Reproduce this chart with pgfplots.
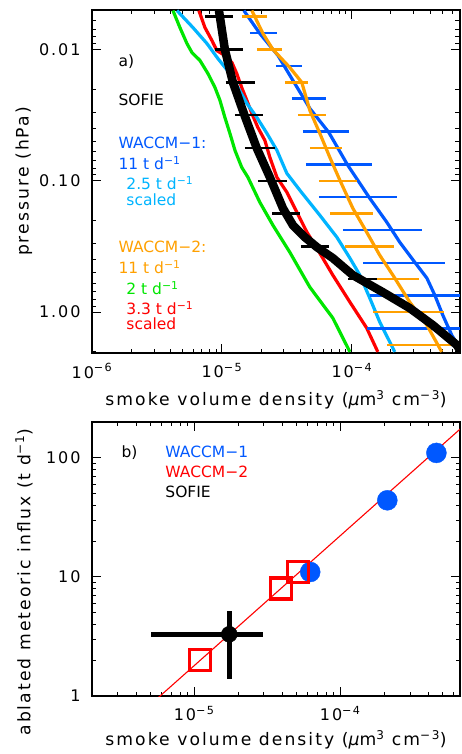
\documentclass[border=0pt]{standalone}
\usepackage{fontspec}
\setmainfont{DejaVu Sans}
\newfontfamily\lsfont{DejaVu Sans}[LetterSpace=12]
\usepackage{pgfplots}
\pgfplotsset{compat=1.18}
\definecolor{wblue}{RGB}{0,88,255}
\definecolor{wcyan}{RGB}{0,180,255}
\definecolor{worange}{RGB}{255,160,0}
\definecolor{wgreen}{RGB}{0,230,0}
\definecolor{wred}{RGB}{255,0,0}
\newcommand{\sfs}{\fontsize{15.5}{18}\selectfont}
\newcommand{\tfs}{\fontsize{16}{19}\selectfont}
\newcommand{\lfs}{\fontsize{17.2}{20}\selectfont}
\begin{document}
\begin{tikzpicture}
\path[use as bounding box] (-92pt,10pt) rectangle (369pt,-744pt);
% ---------------- panel a
\begin{axis}[scale only axis, xmode=log, ymode=log,
  axis line style={line width=1.2pt}, tick style={line width=0.9pt, black},
  major tick length=9pt, minor tick length=4.5pt, tick align=inside,
  tick pos=both, font=\sfs, ticklabel style={font=\lsfont\tfs},
  label style={font=\lsfont\lfs}, unbounded coords=jump,
  every node/.append style={inner sep=0pt},
  at={(0pt,0pt)}, anchor=north west, width=368pt, height=343pt,
  xmin=1e-6, xmax=6.8e-4, ymin=0.005, ymax=2.05, y dir=reverse,
  xtick={1e-6,1e-5,1e-4}, xticklabels={10\textsuperscript{−6},10\textsuperscript{−5},10\textsuperscript{−4}},
  minor xtick={2e-6,3e-6,4e-6,5e-6,6e-6,7e-6,8e-6,9e-6,2e-5,3e-5,4e-5,5e-5,6e-5,7e-5,8e-5,9e-5,2e-4,3e-4,4e-4,5e-4,6e-4},
  ytick={0.01,0.1,1}, yticklabels={0.01,0.10,1.00},
  minor ytick={0.005,0.006,0.007,0.008,0.009,0.02,0.03,0.04,0.05,0.06,0.07,0.08,0.09,0.2,0.3,0.4,0.5,0.6,0.7,0.8,0.9,2},
  xticklabel style={yshift=-7pt}, yticklabel style={xshift=-8pt},
  xlabel={smoke volume density ({\itshape μ}m\textsuperscript{3} cm\textsuperscript{−3})},
  ylabel={pressure (hPa)},
  xlabel style={at={(axis description cs:0.5,-0.137)}, anchor=center},
  ylabel style={at={(axis description cs:-0.185,0.5)}, anchor=center},
]
% green: WACCM-2 2 t/d
\addplot[wgreen, line width=3.2pt] coordinates {(4.20e-6,0.00505) (4.75e-6,0.0068) (5.38e-6,0.0090) (5.88e-6,0.01054) (6.77e-6,0.0121) (7.80e-6,0.01522) (8.84e-6,0.01945) (9.66e-6,0.0244) (1.054e-5,0.0329) (1.152e-5,0.0435) (1.26e-5,0.0586) (1.42e-5,0.0789) (1.585e-5,0.094) (1.96e-5,0.146) (2.47e-5,0.218) (3.33e-5,0.350) (4.75e-5,0.646) (7.14e-5,1.11) (9.66e-5,2.01)};
% red: WACCM-2 3.3 t/d scaled
\addplot[wred, line width=3.2pt] coordinates {(6.65e-6,0.00505) (7.40e-6,0.0068) (8.38e-6,0.00854) (9.15e-6,0.0102) (1.054e-5,0.0111) (1.194e-5,0.01256) (1.30e-5,0.01522) (1.42e-5,0.01945) (1.556e-5,0.0244) (1.70e-5,0.0307) (1.89e-5,0.0392) (2.14e-5,0.0492) (2.34e-5,0.0663) (2.65e-5,0.094) (3.16e-5,0.122) (3.78e-5,0.174) (4.51e-5,0.246) (5.38e-5,0.326) (7.14e-5,0.523) (9.66e-5,0.839) (1.30e-4,1.32) (1.585e-4,2.01)};
% cyan: WACCM-1 2.5 t/d scaled
\addplot[wcyan, line width=3.2pt] coordinates {(4.51e-6,0.00505) (5.98e-6,0.0068) (7.67e-6,0.0090) (9.31e-6,0.01171) (1.152e-5,0.01522) (1.327e-5,0.01945) (1.556e-5,0.02574) (1.858e-5,0.0329) (2.22e-5,0.0435) (2.65e-5,0.0586) (3.16e-5,0.0877) (3.98e-5,0.118) (5.67e-5,0.183) (7.67e-5,0.269) (9.66e-5,0.388) (1.153e-4,0.523) (1.375e-4,0.783) (1.64e-4,1.19) (2.14e-4,2.01)};
% blue: WACCM-1 11 t/d
\addplot[wblue, line width=3.2pt] coordinates {(1.476e-5,0.00505) (1.96e-5,0.00756) (2.70e-5,0.0111) (3.52e-5,0.0172) (4.75e-5,0.0281) (6.65e-5,0.0428) (9.31e-5,0.0762) (1.375e-4,0.136) (1.86e-4,0.207) (2.34e-4,0.294) (3.05e-4,0.417) (3.78e-4,0.551) (4.35e-4,0.743) (5.01e-4,1.054) (5.88e-4,1.50) (6.77e-4,1.88)};
\addplot[wblue, line width=2.5pt] coordinates {(1.64e-5,0.0075) (2.65e-5,0.0075) (1e-5,nan) (2.60e-5,0.0133) (4.12e-5,0.0133) (1e-5,nan) (3.45e-5,0.0237) (6.31e-5,0.0237) (1e-5,nan) (4.20e-5,0.0422) (9.48e-5,0.0422) (1e-5,nan) (4.43e-5,0.075) (1.425e-4,0.075) (1e-5,nan) (5.57e-5,0.133) (2.22e-4,0.133) (1e-5,nan) (8.53e-5,0.237) (3.45e-4,0.237) (1e-5,nan) (1.216e-4,0.422) (5.19e-4,0.422) (1e-5,nan) (1.375e-4,0.75) (7.48e-4,0.75) (1e-5,nan) (1.30e-4,1.33) (9.66e-4,1.33)};
% orange: WACCM-2 11 t/d
\addplot[worange, line width=3.2pt] coordinates {(1.70e-5,0.00505) (2.07e-5,0.00756) (2.47e-5,0.01) (3.33e-5,0.0137) (4.12e-5,0.0178) (4.75e-5,0.0291) (5.67e-5,0.0435) (6.77e-5,0.0663) (8.09e-5,0.099) (1.018e-4,0.162) (1.30e-4,0.246) (1.64e-4,0.369) (2.07e-4,0.523) (2.79e-4,0.839) (3.78e-4,1.256) (4.92e-4,2.01)};
\addplot[worange, line width=2.5pt] coordinates {(1.42e-5,0.00562) (2.22e-5,0.00562) (1e-5,nan) (1.858e-5,0.01) (2.89e-5,0.01) (1e-5,nan) (3.05e-5,0.0178) (4.59e-5,0.0178) (1e-5,nan) (3.84e-5,0.0316) (6.31e-5,0.0316) (1e-5,nan) (4.75e-5,0.0562) (8.38e-5,0.0562) (1e-5,nan) (5.57e-5,0.1) (1.092e-4,0.1) (1e-5,nan) (6.77e-5,0.178) (1.45e-4,0.178) (1e-5,nan) (8.83e-5,0.316) (2.10e-4,0.316) (1e-5,nan) (1.153e-4,0.562) (3.28e-4,0.562) (1e-5,nan) (1.45e-4,1.0) (5.10e-4,1.0) (1e-5,nan) (1.86e-4,1.78) (8.8e-4,1.78)};
% black: SOFIE
\addplot[black, line width=8.5pt] coordinates {(9.49e-6,0.00505) (1.054e-5,0.01) (1.215e-5,0.0178) (1.503e-5,0.0323) (1.858e-5,0.0566) (2.34e-5,0.094) (2.95e-5,0.162) (3.52e-5,0.218) (4.35e-5,0.269) (5.38e-5,0.320) (7.14e-5,0.388) (1.018e-4,0.523) (1.73e-4,0.705) (2.79e-4,0.933) (4.20e-4,1.256) (6.42e-4,1.78) (7.02e-4,2.05)};
\addplot[black, line width=2.5pt] coordinates {(7.40e-6,0.00562) (1.215e-5,0.00562) (1e-5,nan) (8.84e-6,0.01) (1.45e-5,0.01) (1e-5,nan) (1.07e-5,0.0178) (1.79e-5,0.0178) (1e-5,nan) (1.26e-5,0.0316) (2.07e-5,0.0316) (1e-5,nan) (1.503e-5,0.0562) (2.56e-5,0.0562) (1e-5,nan) (1.89e-5,0.1) (3.16e-5,0.1) (1e-5,nan) (2.43e-5,0.178) (3.98e-5,0.178) (1e-5,nan) (4.05e-5,0.316) (6.65e-5,0.316) (1e-5,nan) (9.31e-5,0.562) (1.556e-4,0.562)};
\node[anchor=west] at (axis description cs:0.0625,0.848) {a)};
\node[anchor=west] at (axis description cs:0.0625,0.738) {SOFIE};
\node[anchor=west, text=wblue] at (axis description cs:0.0625,0.612) {WACCM−1:};
\node[anchor=west, text=wblue] at (axis description cs:0.0625,0.554) {11 t d\textsuperscript{−1}};
\node[anchor=west, text=wcyan] at (axis description cs:0.084,0.496) {2.5 t d\textsuperscript{−1}};
\node[anchor=west, text=wcyan] at (axis description cs:0.084,0.446) {scaled};
\node[anchor=west, text=worange] at (axis description cs:0.0625,0.309) {WACCM−2:};
\node[anchor=west, text=worange] at (axis description cs:0.0625,0.251) {11 t d\textsuperscript{−1}};
\node[anchor=west, text=wgreen] at (axis description cs:0.084,0.190) {2 t d\textsuperscript{−1}};
\node[anchor=west, text=wred] at (axis description cs:0.084,0.131) {3.3 t d\textsuperscript{−1}};
\node[anchor=west, text=wred] at (axis description cs:0.084,0.085) {scaled};
\end{axis}
% ---------------- panel b
\begin{axis}[scale only axis, xmode=log, ymode=log,
  axis line style={line width=1.2pt}, tick style={line width=0.9pt, black},
  major tick length=9pt, minor tick length=4.5pt, tick align=inside,
  tick pos=both, font=\sfs, ticklabel style={font=\lsfont\tfs},
  label style={font=\lsfont\lfs}, unbounded coords=jump,
  every node/.append style={inner sep=0pt},
  at={(0pt,-412pt)}, anchor=north west, width=368pt, height=274pt,
  xmin=2e-6, xmax=6.6e-4, ymin=1, ymax=200,
  xtick={1e-5,1e-4}, xticklabels={10\textsuperscript{−5},10\textsuperscript{−4}},
  minor xtick={2e-6,3e-6,4e-6,5e-6,6e-6,7e-6,8e-6,9e-6,2e-5,3e-5,4e-5,5e-5,6e-5,7e-5,8e-5,9e-5,2e-4,3e-4,4e-4,5e-4,6e-4},
  ytick={1,10,100}, yticklabels={1,10,100},
  minor ytick={2,3,4,5,6,7,8,9,20,30,40,50,60,70,80,90,200},
  xticklabel style={yshift=-7pt}, yticklabel style={xshift=-8pt},
  xlabel={smoke volume density ({\itshape μ}m\textsuperscript{3} cm\textsuperscript{−3})},
  ylabel={ablated meteoric influx (t d\textsuperscript{−1})},
  xlabel style={at={(axis description cs:0.5,-0.161)}, anchor=center},
  ylabel style={at={(axis description cs:-0.185,0.416)}, anchor=center},
]
\addplot[wred, line width=1.1pt] coordinates {(5e-6,0.843) (1e-3,274)};
\addplot[only marks, mark=*, mark size=10pt, color=wblue, mark options={draw=none, fill=wblue}] coordinates {(6.23e-5,11) (2.10e-4,44) (4.55e-4,110)};
\addplot[only marks, mark=square, mark size=10.5pt, color=wred, mark options={line width=3.3pt, draw=wred}] coordinates {(1.10e-5,2.0) (3.94e-5,8.0) (5.15e-5,11)};
\addplot[black, line width=4.5pt] coordinates {(5.07e-6,3.3) (2.97e-5,3.3) (1e-5,nan) (1.74e-5,1.4) (1.74e-5,5.2)};
\addplot[only marks, mark=*, mark size=8pt, color=black] coordinates {(1.74e-5,3.3)};
\node[anchor=west] at (axis description cs:0.0707,0.887) {b)};
\node[anchor=west, text=wblue] at (axis description cs:0.190,0.891) {WACCM−1};
\node[anchor=west, text=wred] at (axis description cs:0.190,0.818) {WACCM−2};
\node[anchor=west] at (axis description cs:0.190,0.745) {SOFIE};
\end{axis}
\end{tikzpicture}
\end{document}
